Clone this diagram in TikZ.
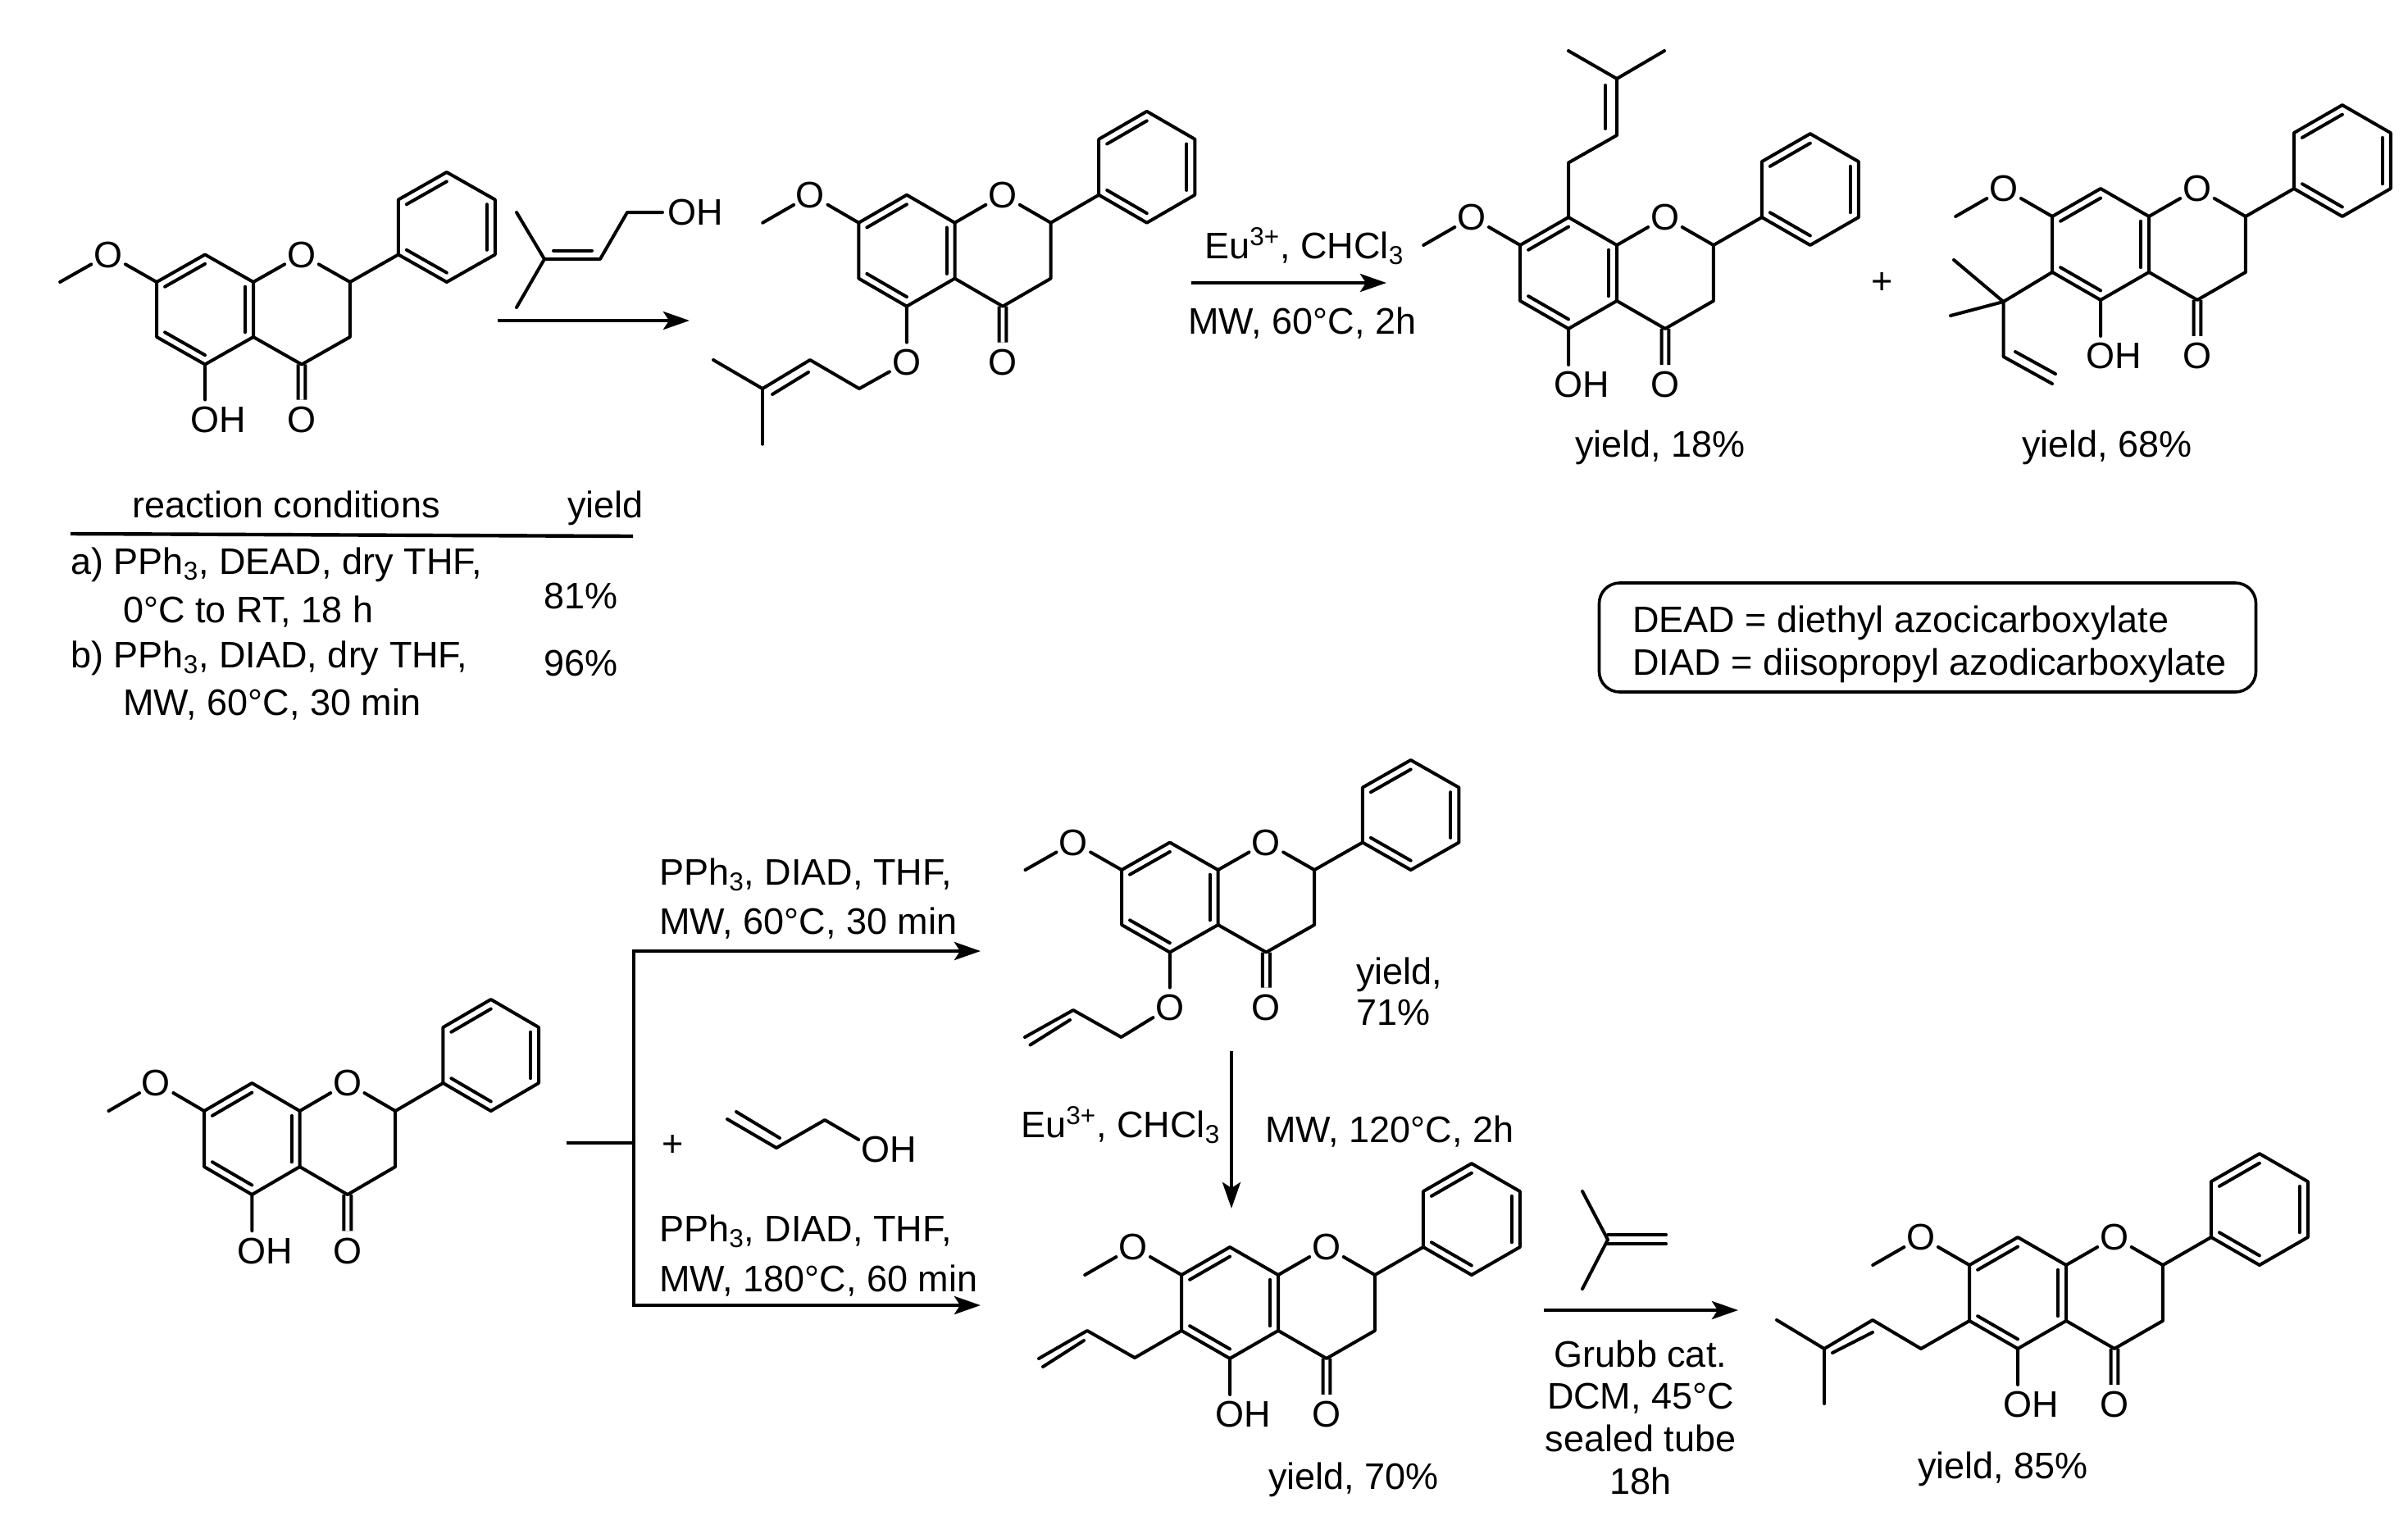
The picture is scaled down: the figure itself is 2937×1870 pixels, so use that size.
\documentclass[tikz,border=0pt]{standalone}
\usepackage{fontspec}
\setmainfont{Liberation Sans}
\usetikzlibrary{arrows.meta,calc}

\newcommand{\labfont}{\fontsize{22.5}{25}\selectfont}

\tikzset{
    mol/.style n args={4}{shift={(#1,#2)},xscale=#3,yscale=#4},
    atom/.style={circle,inner sep=0pt,font=\labfont},
    bond/.style={line width=2pt,line cap=round,line join=round},
    pics/flavanone/.style={code={
        \coordinate (c8a) at (0,0);
        \coordinate (c8) at (-1,-.5);
        \coordinate (c7) at (-2,0);
        \coordinate (c6) at (-2,1);
        \coordinate (c5) at (-1,1.5);
        \coordinate (c4a) at (0,1);
        \coordinate (c4) at (1,1.5);
        \coordinate (c3) at (2,1);
        \coordinate (c2) at (2,0);
        \coordinate (p1) at (3,-.5);
        \coordinate (p2) at (3,-1.5);
        \coordinate (p3) at (4,-2);
        \coordinate (p4) at (5,-1.5);
        \coordinate (p5) at (5,-.5);
        \coordinate (p6) at (4,0);
        \coordinate (me) at (-4,0);
        \coordinate (ringa) at (-1,.5);
        \coordinate (ringp) at (4,-1);
        \node[atom] (o1) at (1,-.5) {O};
        \node[atom] (ome) at (-3,-.5) {O};
        \node[atom] (o4) at (1,2.5) {O};
        \node[atom] (o5) at (-1,2.5) {O\rlap{#1}};
        % carbonyl goes first, the rings run over its start
        \draw[bond,line cap=butt,double,double distance=2.4pt] (c4) -- (o4);
        \draw[bond] (c8a) -- (c8) -- (c7) -- (c6) -- (c5) -- (c4a) -- cycle;
        \draw[bond] (c8a) -- (o1) -- (c2) -- (c3) -- (c4) -- (c4a);
        \draw[bond] (c2) -- (p1) -- (p2) -- (p3) -- (p4) -- (p5) -- (p6) -- (p1);
        \draw[bond] (c7) -- (ome) -- (me);
        \draw[bond] (c5) -- (o5);
        % inner lines of the double bonds
        \foreach \a/\b/\r in {c7/c8/ringa,c6/c5/ringa,c8a/c4a/ringa,p1/p6/ringp,p2/p3/ringp,p4/p5/ringp}
            \draw[bond] ($(\a)!.17!(\r)$) -- ($(\b)!.17!(\r)$);
    }},
}

\begin{document}
\begin{tikzpicture}[
    x=.5pt,y=-.5pt,
    lbl/.style={font=\labfont,inner sep=0pt,anchor=base west},
    lblc/.style={font=\labfont,inner sep=0pt,anchor=base},
    rxn/.style={line width=2.2pt,-{Stealth[length=16pt,width=11pt,inset=3.5pt]}},
    abbr/.style={draw,line width=1.8pt,rounded corners=12.5pt,inner sep=0pt,minimum width=400.5pt,
        minimum height=66.5pt}
]
\useasboundingbox (0,0) rectangle (2937,1870);

% top row
\pic (m1-) [mol={309}{344}{59}{67}] {flavanone=H};
\node[atom] (oh1) at (832,259) {O\rlap{H}};
\draw[bond] (630,259) -- (664,316) -- (630,375);
\draw[bond] (664,316) -- (732,316) -- (765,259) -- (oh1);
\draw[bond] (675,305.5) -- (722,305.5);
\coordinate (a1s) at (607,391);
\coordinate (a1e) at (841,391);
\draw[rxn] (a1s) -- (a1e);

\pic (m2-) [mol={1164.5}{271.7}{58.7}{68}] {flavanone={}};
\draw[bond] (m2-o5) -- (1048,474) -- (988,439) -- (930,474) -- (870,439);
\draw[bond] (930,474) -- (930,541.7);
\draw[bond] (942,481) -- (986,454);
\coordinate (a2s) at (1453,345);
\coordinate (a2e) at (1691,345);
\draw[rxn] (a2s) -- (a2e);
\node[lbl] (t2a) at (1469,315) {Eu\textsuperscript{3+}, CHCl\textsubscript{3}};
\node[lbl] (t2b) at (1449,407) {MW, 60°C, 2h};

\pic (m3-) [mol={1972}{299}{59}{68}] {flavanone=H};
\draw[bond] (m3-c8) -- (1913,198.5) -- (1972,165) -- (1972,96) -- (1913,62);
\draw[bond] (1972,96) -- (2030,62);
\draw[bond] (1958,104) -- (1958,157);
\node[lbl] (y3) at (1921,557) {yield, 18\%};
\node[font=\labfont,inner sep=0pt] (plus) at (2296,346) {+};

\pic (m4-) [mol={2621}{264}{59}{68}] {flavanone=H};
\draw[bond] (2383,317) -- (2443.5,368) -- (2379,385);
\draw[bond] (m4-c6) -- (2443.5,368) -- (2443.5,435) -- (2503,468);
\draw[bond] (2458,429) -- (2507,456);
\node[lbl] (y4) at (2466,557) {yield, 68\%};

% conditions table
\node[lbl] (th1) at (161,631) {reaction conditions};
\node[lbl] (th2) at (692,631) {yield};
\coordinate (ruleL) at (86,651);
\coordinate (ruleR) at (772,654);
\draw[line width=2.2pt] (ruleL) -- (ruleR);
\node[lbl] (ra1) at (86,700) {a) PPh\textsubscript{3}, DEAD, dry THF,};
\node[lbl] (ra2) at (150,759) {0°C to RT, 18 h};
\node[lbl] (rb1) at (86,814) {b) PPh\textsubscript{3}, DIAD, dry THF,};
\node[lbl] (rb2) at (150,872) {MW, 60°C, 30 min};
\node[lbl] (ya) at (663,742) {81\%};
\node[lbl] (yb) at (663,824) {96\%};

\node[abbr] (key) at (2351,777.5) {};
\node[lbl] (key1) at (1991,771) {DEAD = diethyl azocicarboxylate};
\node[lbl] (key2) at (1991,823) {DIAD = diisopropyl azodicarboxylate};

% bottom row
\pic (m5-) [mol={365.6}{1355}{58.4}{68.5}] {flavanone=H};
\coordinate (b0) at (691,1394);
\coordinate (b1) at (773,1394);
\coordinate (b2) at (773,1160);
\coordinate (b3) at (773,1592);
\coordinate (b2e) at (1196,1160);
\coordinate (b3e) at (1196,1592);
\draw[line width=2.2pt] (b0) -- (b1);
\draw[rxn] (b1) -- (b2) -- (b2e);
\draw[rxn] (b1) -- (b3) -- (b3e);
\node[font=\labfont,inner sep=0pt] (plus2) at (821,1397) {+};
\node[atom] (oh2) at (1068,1402) {O\rlap{H}};
\draw[bond] (887,1365) -- (947,1400) -- (1006,1366) -- (oh2);
\draw[bond] (898,1356) -- (951,1388);
\node[lbl] (t5a) at (804,1079) {PPh\textsubscript{3}, DIAD, THF,};
\node[lbl] (t5b) at (804,1139) {MW, 60°C, 30 min};
\node[lbl] (t5c) at (804,1514) {PPh\textsubscript{3}, DIAD, THF,};
\node[lbl] (t5d) at (804,1575) {MW, 180°C, 60 min};

\pic (m6-) [mol={1485.6}{1061}{58.8}{67}] {flavanone={}};
\draw[bond] (m6-o5) -- (1367.5,1265) -- (1309,1232) -- (1250,1265);
\draw[bond] (1256.5,1274.5) -- (1305,1244);
\node[lbl] (y6a) at (1654,1200) {yield,};
\node[lbl] (y6b) at (1654,1250) {71\%};

\coordinate (a6s) at (1502,1282);
\coordinate (a6e) at (1502,1474);
\draw[rxn] (a6s) -- (a6e);
\node[lbl] (t6a) at (1245,1387) {Eu\textsuperscript{3+}, CHCl\textsubscript{3}};
\node[lbl] (t6b) at (1543,1393) {MW, 120°C, 2h};

\pic (m7-) [mol={1559}{1555}{59}{68}] {flavanone=H};
\draw[bond] (m7-c6) -- (1384,1656) -- (1326,1623) -- (1267,1657);
\draw[bond] (1272,1667) -- (1322,1635);
\node[lbl] (y7) at (1547,1816) {yield, 70\%};

\draw[bond] (1930,1453) -- (1961,1512) -- (1930,1572);
\draw[bond] (1961,1506) -- (2032,1506);
\draw[bond] (1961,1517) -- (2032,1517);
\coordinate (a7s) at (1883,1598);
\coordinate (a7e) at (2120,1598);
\draw[rxn] (a7s) -- (a7e);
\node[lblc] (t7a) at (2001,1667) {Grubb cat.};
\node[lblc] (t7b) at (2001,1718) {DCM, 45°C};
\node[lblc] (t7c) at (2001,1770) {sealed tube};
\node[lblc] (t7d) at (2001,1822) {18h};

\pic (m8-) [mol={2520}{1543}{59}{68}] {flavanone=H};
\draw[bond] (m8-c6) -- (2343,1645) -- (2284,1610) -- (2225,1645) -- (2167,1610);
\draw[bond] (2225,1645) -- (2225,1712);
\draw[bond] (2235,1650) -- (2284,1625);
\node[lbl] (y8) at (2339,1803) {yield, 85\%};

\end{tikzpicture}
\end{document}
